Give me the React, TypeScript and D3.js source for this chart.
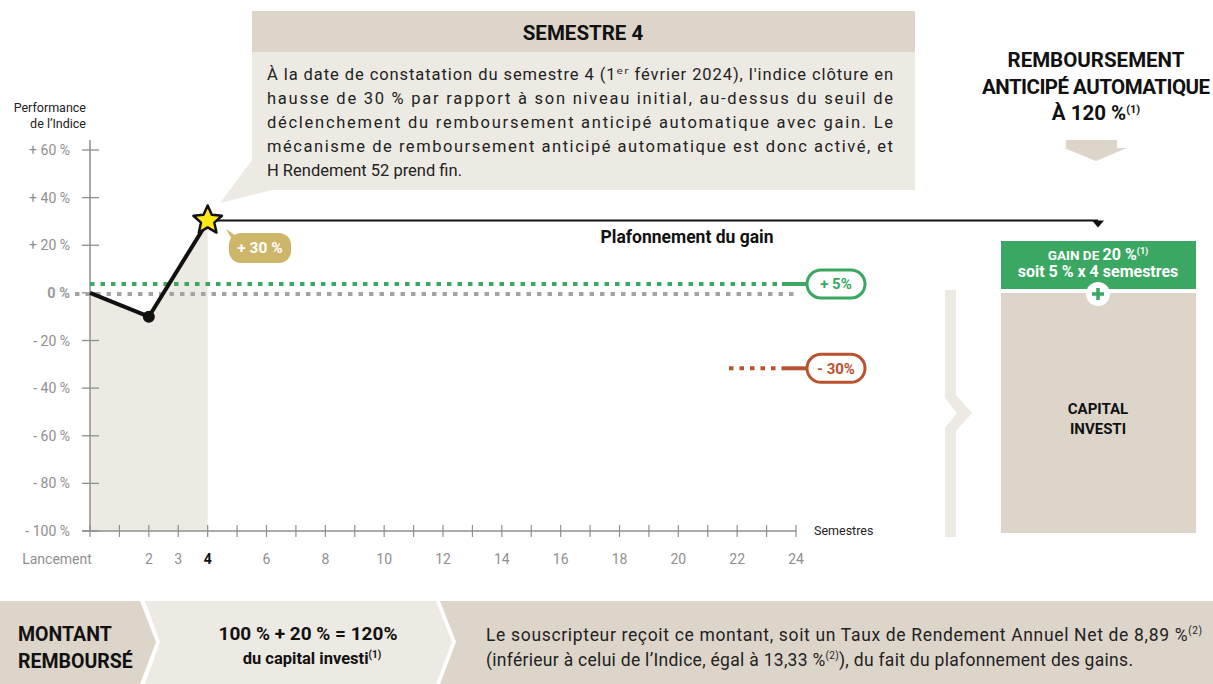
import React from "react";
import * as d3 from "d3";

const semesters = [0, 2, 4];
const performance = [0, -10, 30];
const yTicks = [60, 40, 20, 0, -20, -40, -60, -80, -100];
const xTickValues = d3.range(0, 25);
const xLabelValues = [0, 2, 3, 4, 6, 8, 10, 12, 14, 16, 18, 20, 22, 24];
const gainThreshold = 5;
const barrierThreshold = -30;
const capLevel = 30;
const calloutTitle = "SEMESTRE 4";
const calloutLines = [
  "À la date de constatation du semestre 4 (1ᵉʳ février 2024), l'indice clôture en",
  "hausse de 30 % par rapport à son niveau initial, au-dessus du seuil de",
  "déclenchement du remboursement anticipé automatique avec gain. Le",
  "mécanisme de remboursement anticipé automatique est donc activé, et",
  "H Rendement 52 prend fin.",
];

const W = 1213;
const H = 684;
const FONT = "Roboto, 'DejaVu Sans', sans-serif";
const GREEN = "#3aa862";
const RED = "#b9532f";
const GOLD = "#cdb66a";
const BEIGE = "#ddd5ca";
const LIGHT = "#edeae3";
const GREY = "#8f8f8f";

const x = d3.scaleLinear().domain([0, 24]).range([90, 796]);
const y = d3.scaleLinear().domain([-100, 60]).range([531, 150]);

function starPath(cx: number, cy: number, R: number, r: number) {
  const pts: [number, number][] = [];
  for (let i = 0; i < 10; i++) {
    const a = -Math.PI / 2 + (i * Math.PI) / 5;
    const rad = i % 2 === 0 ? R : r;
    pts.push([cx + rad * Math.cos(a), cy + rad * Math.sin(a)]);
  }
  return "M" + pts.map((p) => p.join(",")).join("L") + "Z";
}

export default function App() {
  const data = semesters.map((s, i) => ({ s, v: performance[i] }));
  const line = d3.line<{ s: number; v: number }>().x((d) => x(d.s)).y((d) => y(d.v));
  const area = d3
    .area<{ s: number; v: number }>()
    .x((d) => x(d.s))
    .y0(y(-100))
    .y1((d) => y(d.v));
  const last = data[data.length - 1];
  const sx = x(last.s);
  const sy = y(capLevel) - 1;
  const gy = y(gainThreshold) + 3;
  const ry = y(barrierThreshold) + 4;
  const zy = y(0) + 1;

  return (
    <svg width={W} height={H} style={{ position: "absolute", left: 0, top: 0, fontFamily: FONT }}>
      <rect width={W} height={H} fill="#fff" />
      {/* shaded area */}
      <path d={area(data) || ""} fill={LIGHT} />

      {/* y axis */}
      <line x1={x(0)} x2={x(0)} y1={140} y2={y(-100)} stroke={GREY} strokeWidth={1.5} />
      {yTicks.map((t) => (
        <g key={t}>
          <line x1={x(0) - 8} x2={x(0) + 9} y1={y(t)} y2={y(t)} stroke={GREY} strokeWidth={1.3} />
          <text
            x={70}
            y={y(t) + 5}
            textAnchor="end"
            fontSize={t === 0 ? 14.5 : 14}
            fill={t === 0 ? "#9a9a9a" : GREY}
            fontWeight={t === 0 ? 700 : 400}
          >
            {t === 0 ? "0 %" : `${t > 0 ? "+" : "-"} ${Math.abs(t)} %`}
          </text>
        </g>
      ))}
      <text x={86} y={112} textAnchor="end" fontSize={12.5} fill="#222">Performance</text>
      <text x={86} y={128} textAnchor="end" fontSize={12.5} fill="#222">de l’Indice</text>

      {/* x axis */}
      <line x1={x(0) - 8} x2={x(24)} y1={y(-100)} y2={y(-100)} stroke={GREY} strokeWidth={1.5} />
      {xTickValues.map((t) => (
        <line key={t} x1={x(t)} x2={x(t)} y1={y(-100) - 6} y2={y(-100) + 6} stroke={GREY} strokeWidth={1.2} />
      ))}
      {xLabelValues.map((t) => (
        <text
          key={t}
          x={t === 0 ? 57 : x(t)}
          y={564}
          textAnchor="middle"
          fontSize={14}
          fill={t === 4 ? "#111" : GREY}
          fontWeight={t === 4 ? 700 : 400}
        >
          {t === 0 ? "Lancement" : t}
        </text>
      ))}
      <text x={814} y={535} fontSize={12.5} fill="#222">Semestres</text>

      {/* zero line */}
      <line x1={75} x2={795} y1={zy} y2={zy} stroke="#a3a3a3" strokeWidth={4} strokeDasharray="4.5 6" />
      {/* gain threshold */}
      <line x1={x(0)} x2={782} y1={gy} y2={gy} stroke={GREEN} strokeWidth={4} strokeDasharray="4.5 6" />
      <line x1={782} x2={808} y1={gy} y2={gy} stroke={GREEN} strokeWidth={4} />
      <rect x={807} y={gy - 14} width={58} height={28} rx={14} fill="#fff" stroke={GREEN} strokeWidth={3} />
      <text x={836} y={gy + 5.5} textAnchor="middle" fontSize={15} fontWeight={700} fill={GREEN}>+ 5%</text>
      {/* barrier */}
      <line x1={729} x2={782} y1={ry} y2={ry} stroke={RED} strokeWidth={4} strokeDasharray="4.5 6" />
      <line x1={782} x2={808} y1={ry} y2={ry} stroke={RED} strokeWidth={4} />
      <rect x={807} y={ry - 14} width={58} height={28} rx={14} fill="#fff" stroke={RED} strokeWidth={3} />
      <text x={836} y={ry + 5.5} textAnchor="middle" fontSize={15} fontWeight={700} fill={RED}>- 30%</text>

      {/* cap line */}
      <line x1={sx} x2={1098} y1={sy} y2={sy} stroke="#111" strokeWidth={2} />
      <path d={`M1092,${sy}L1104,${sy}L1098,${sy + 7}Z`} fill="#111" />
      <text x={687} y={243} textAnchor="middle" fontSize={17.5} fontWeight={700} fill="#111">Plafonnement du gain</text>

      {/* performance line */}
      <path d={line(data) || ""} fill="none" stroke="#111" strokeWidth={4} strokeLinejoin="round" />
      <circle cx={x(2)} cy={y(-10)} r={6} fill="#111" />
      <path d={starPath(sx, y(last.v) - 1, 15, 7)} fill="#ffe817" stroke="#111" strokeWidth={2.5} strokeLinejoin="round" />

      {/* +30% bubble */}
      <path d="M226,229 L236,236 L236,246 Z" fill={GOLD} />
      <rect x={229} y={233} width={62} height={30} rx={12} fill={GOLD} />
      <text x={260} y={253} textAnchor="middle" fontSize={15.5} fontWeight={700} fill="#fff">+ 30 %</text>

      {/* callout */}
      <path d="M252,160 L220,203 L272,190 Z" fill={LIGHT} />
      <rect x={252} y={11} width={663} height={41} fill={BEIGE} />
      <rect x={252} y={52} width={663} height={138} fill={LIGHT} />
      <text x={583} y={40} textAnchor="middle" fontSize={20.5} fontWeight={700} fill="#111">{calloutTitle}</text>
      {calloutLines.map((l, i) => (
        <text
          key={i}
          x={267}
          y={80 + i * 24}
          fontSize={16.5}
          fill="#222"
          {...(i < calloutLines.length - 1 ? { textLength: 626, lengthAdjust: "spacing" } : {})}
        >
          {l}
        </text>
      ))}

      {/* right panel */}
      <g fontWeight={700} fill="#111" textAnchor="middle" fontSize={20.5}>
        <text x={1096} y={67}>REMBOURSEMENT</text>
        <text x={1096} y={94} textLength={228} lengthAdjust="spacing">ANTICIPÉ AUTOMATIQUE</text>
        <text x={1096} y={120}>
          À 120 %<tspan fontSize={11} dy={-7}>(1)</tspan>
        </text>
      </g>
      <path d="M1066,140 L1117,140 L1117,148 L1127,148 L1096,161 L1064,148 L1066,148 Z" fill={BEIGE} />

      <rect x={1001} y={241} width={195} height={48} fill={GREEN} />
      <rect x={1001} y={293} width={195} height={240} fill={BEIGE} />
      <circle cx={1098} cy={294} r={12} fill="#fff" />
      <path d="M1098,288 V300 M1092,294 H1104" stroke={GREEN} strokeWidth={3.5} />
      <g fill="#fff" textAnchor="middle" fontWeight={700}>
        <text x={1098} y={260} fontSize={13.5}>
          GAIN DE <tspan fontSize={16}>20 %</tspan>
          <tspan fontSize={9} dy={-6}>(1)</tspan>
        </text>
        <text x={1098} y={277} fontSize={16}>soit 5 % x 4 semestres</text>
      </g>
      <g fill="#111" textAnchor="middle" fontWeight={700} fontSize={15}>
        <text x={1098} y={414}>CAPITAL</text>
        <text x={1098} y={434}>INVESTI</text>
      </g>
      <path
        d="M945,290 L956,290 L956,395 L972,413 L956,431 L956,537 L945,537 L945,428 L957,413 L945,398 Z"
        fill={LIGHT}
      />

      {/* bottom band */}
      <path d="M440,601 L1213,601 L1213,684 L440,684 L456,642 Z" fill={BEIGE} />
      <path d="M145,601 L436,601 L452,642 L436,684 L145,684 L160,642 Z" fill={LIGHT} />
      <path d="M0,601 L140,601 L156,642 L140,684 L0,684 Z" fill={BEIGE} />
      <g fill="#111" fontWeight={700} fontSize={19.5}>
        <text x={18} y={641}>MONTANT</text>
        <text x={18} y={668}>REMBOURSÉ</text>
      </g>
      <g fill="#111" fontWeight={700} textAnchor="middle">
        <text x={308} y={640} fontSize={19}>100 % + 20 % = 120%</text>
        <text x={312} y={664} fontSize={16.5}>
          du capital investi<tspan fontSize={10} dy={-6}>(1)</tspan>
        </text>
      </g>
      <g fill="#222" fontSize={17.5}>
        <text x={486} y={641} textLength={716} lengthAdjust="spacing">
          Le souscripteur reçoit ce montant, soit un Taux de Rendement Annuel Net de 8,89 %
          <tspan fontSize={10} dy={-7}>(2)</tspan>
        </text>
        <text x={486} y={666} textLength={647} lengthAdjust="spacing">
          (inférieur à celui de l’Indice, égal à 13,33 %<tspan fontSize={10} dy={-7}>(2)</tspan>
          <tspan dy={7}>), du fait du plafonnement des gains.</tspan>
        </text>
      </g>
    </svg>
  );
}
